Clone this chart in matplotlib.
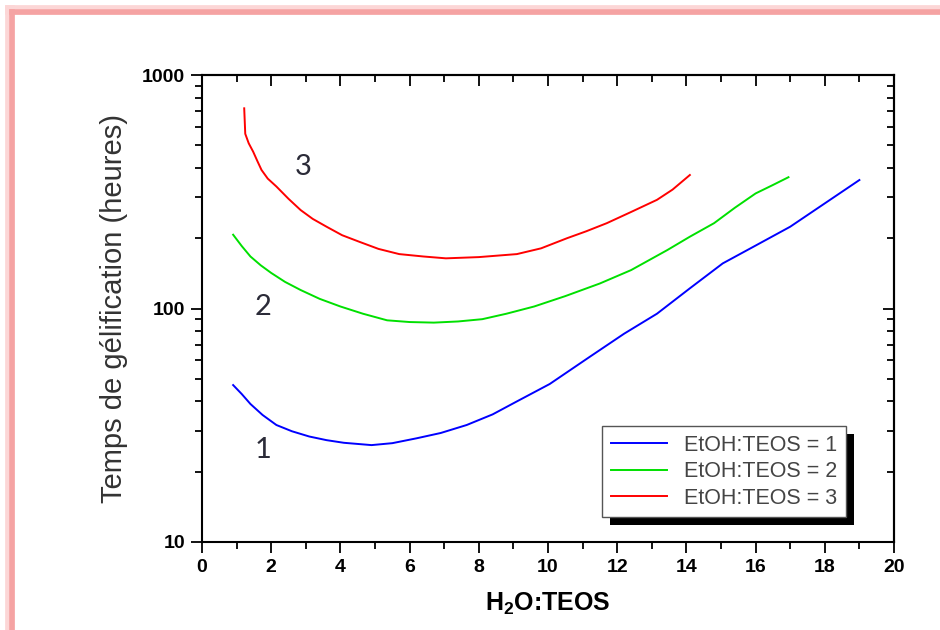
import matplotlib
matplotlib.use('Agg')
import matplotlib.pyplot as plt
from matplotlib.lines import Line2D
from matplotlib.patches import Rectangle
from matplotlib.transforms import IdentityTransform

# courbes
x1 = [0.9, 1.15, 1.4, 1.75, 2.15, 2.6, 3.1, 3.6, 4.1, 4.9, 5.5, 6.2, 6.9, 7.65, 8.4,
      9.1, 10.05, 11.2, 12.2, 13.15, 14.1, 15.05, 16.0, 17.0, 18.0, 19.0]
y1 = [47, 43, 39, 35, 31.7, 29.8, 28.3, 27.3, 26.6, 26, 26.5, 27.8, 29.3, 31.7, 35.2,
      40, 47.5, 62, 78, 95, 122, 156, 186, 224, 282, 355]

x2 = [0.9, 1.15, 1.4, 1.7, 2.0, 2.4, 2.85, 3.4, 4.0, 4.65, 5.35, 6.0, 6.7, 7.4, 8.1,
      8.8, 9.6, 10.5, 11.5, 12.4, 13.45, 14.1, 14.8, 15.4, 16.0, 16.5, 16.95]
y2 = [207, 185, 167, 153, 142, 130, 120, 110, 102, 95, 89, 87.5, 87, 88, 90,
      95, 102, 113, 128, 146, 178, 203, 232, 270, 311, 338, 365]

x3 = [1.22, 1.25, 1.35, 1.48, 1.6, 1.72, 1.9, 2.15, 2.5, 2.85, 3.2, 3.6, 4.05, 4.55,
      5.1, 5.7, 6.4, 7.05, 8.0, 9.1, 9.8, 10.55, 11.1, 11.7, 12.4, 13.15, 13.6, 14.1]
y3 = [720, 560, 510, 469, 428, 392, 360, 333, 295, 264, 242, 224, 206, 193,
      180, 171, 167, 164, 166, 171, 181, 200, 214, 232, 259, 292, 323, 373]

labels = ['EtOH:TEOS = 1', 'EtOH:TEOS = 2', 'EtOH:TEOS = 3']
colors = ['#0000ff', '#00e000', '#ff0000']
curve_tags = ['1', '2', '3']
tag_pos = [(1.76, 24.8), (1.76, 101), (2.92, 404)]

plt.rcParams['font.family'] = ['Liberation Sans', 'DejaVu Sans']
plt.rcParams['mathtext.fontset'] = 'custom'
plt.rcParams['mathtext.bf'] = 'Liberation Sans:bold'

fig = plt.figure(figsize=(9.4, 6.3), dpi=100)
ax = fig.add_axes([202 / 940, 1 - 542 / 630, 692 / 940, 467 / 630])

for xs, ys, c, lab in zip([x1, x2, x3], [y1, y2, y3], colors, labels):
    ax.plot(xs, ys, color=c, lw=1.4, label=lab)

for t, (tx, ty) in zip(curve_tags, tag_pos):
    ax.text(tx, ty, t, fontsize=21, color='#2b2b38', ha='center', va='center',
            family=['Lato', 'DejaVu Sans'])

ax.set_xlim(0, 20)
ax.set_yscale('log')
ax.set_ylim(10, 1000)
ax.set_xticks(range(0, 21, 2))
ax.set_xticks(range(0, 21), minor=True)
ax.set_yticks([10, 100, 1000])
ax.set_yticklabels(['10', '100', '1000'])

for s in ax.spines.values():
    s.set_linewidth(1.5)

ax.tick_params(which='both', direction='out', width=1.3, top=False, right=False,
               labelsize=14, pad=4)
ax.tick_params(which='major', length=8)
ax.tick_params(which='minor', length=5)
for lbl in ax.get_xticklabels() + ax.get_yticklabels():
    lbl.set_fontweight('bold')

# axes du haut et de droite, graduations vers l'intérieur
top = ax.secondary_xaxis('top')
top.set_xticks(range(0, 21, 2))
top.set_xticks(range(0, 21), minor=True)
top.tick_params(which='both', direction='in', width=1.3, labeltop=False)
top.tick_params(which='major', length=8)
top.tick_params(which='minor', length=5)
top.spines['top'].set_linewidth(1.5)

right = ax.secondary_yaxis('right')
right.tick_params(which='both', direction='in', width=1.3, labelright=False)
right.tick_params(which='major', length=8)
right.tick_params(which='minor', length=5)
right.spines['right'].set_linewidth(1.5)

ax.set_xlabel(r'H$_\mathbf{2}$O:TEOS', fontsize=18, fontweight='bold', labelpad=11)
ax.set_ylabel('Temps de gélification (heures)', fontsize=21, color='#333333', labelpad=10)

leg = ax.legend(loc='upper left', bbox_to_anchor=(602 / 940, 1 - 426 / 630),
                bbox_transform=fig.transFigure, borderaxespad=0, fancybox=False,
                framealpha=1, facecolor='white', edgecolor='#555555', fontsize=15.5,
                handlelength=2.6, handletextpad=0.8, labelspacing=0.26,
                borderpad=0.4)
leg.get_frame().set_linewidth(1)
for t in leg.get_texts():
    t.set_color('#444444')

# ombre noire de la légende
fig.canvas.draw()
bb = leg.get_window_extent()
ax.add_patch(Rectangle((bb.x0 + 8, bb.y0 - 8), bb.width, bb.height, facecolor='black',
                       edgecolor='none', transform=IdentityTransform(), clip_on=False,
                       zorder=4))

# cadre rose
fig.add_artist(Line2D([10 / 940, 1], [1 - 10 / 630] * 2, color='#fcd6d6', lw=7))
fig.add_artist(Line2D([10 / 940] * 2, [0, 1 - 10 / 630], color='#fcd6d6', lw=7))
fig.add_artist(Line2D([12 / 940, 1], [1 - 12 / 630] * 2, color='#f5a3a3', lw=4))
fig.add_artist(Line2D([12 / 940] * 2, [0, 1 - 12 / 630], color='#f5a3a3', lw=4))

fig.savefig('out.png', dpi=100)
